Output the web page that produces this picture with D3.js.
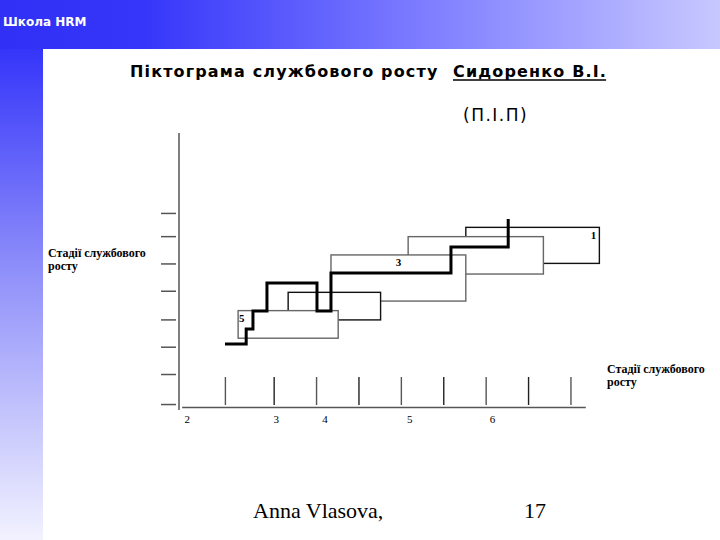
<!DOCTYPE html>
<html><head><meta charset="utf-8">
<script src="https://cdn.jsdelivr.net/npm/d3@7"></script>
<style>html,body{margin:0;padding:0;background:#fff;} svg{display:block;}</style>
</head><body><svg id="c" width="720" height="540"></svg>
<script>
// ---- data ----
const xTicks = [1, 2.15, 3.15, 4.15, 5.15, 6.15, 7.15, 8.15, 9.15];
const xLabels = ["2", "3", "4", "5", "6"];
const xLabelPos = [0.1, 2.2, 3.35, 5.35, 7.3];
const yTicks = [0.2, 1.3, 2.3, 3.3, 4.35, 5.35, 6.35, 7.2];
const stageNames = ["1", "", "3", "", "5"];
const stageStart = [6.67, 5.31, 3.49, 2.48, 1.30];
const stageEnd = [9.82, 8.50, 6.67, 4.66, 3.66];
const stageLow = [5.37, 4.98, 3.99, 3.30, 2.63];
const stageHigh = [6.69, 6.35, 5.68, 4.31, 3.64];
const stageTone = ["black", "grey", "grey", "black", "grey"];
const careerX = [0.99, 1.49, 1.65, 1.98, 3.16, 3.49, 6.32, 7.67];
const careerY = [2.42, 2.97, 3.63, 4.65, 3.63, 5.02, 5.97, 7.0];

const svg = d3.select("#c");
const W = 720, H = 540;

// ---- background ----
const defs = svg.append("defs");
const gh = defs.append("linearGradient").attr("id", "gh").attr("x1", 0).attr("x2", 1).attr("y1", 0).attr("y2", 0);
gh.append("stop").attr("offset", "0").attr("stop-color", "#3030f6");
gh.append("stop").attr("offset", "0.2").attr("stop-color", "#3636fa");
gh.append("stop").attr("offset", "0.55").attr("stop-color", "#7676ff");
gh.append("stop").attr("offset", "1").attr("stop-color", "#c8c8ff");
const gv = defs.append("linearGradient").attr("id", "gv").attr("x1", 0).attr("x2", 0).attr("y1", 0).attr("y2", 1);
gv.append("stop").attr("offset", "0").attr("stop-color", "#3535fa");
gv.append("stop").attr("offset", "0.45").attr("stop-color", "#8f8ffa");
gv.append("stop").attr("offset", "1").attr("stop-color", "#f2f2ff");
svg.append("rect").attr("x", 0).attr("y", 0).attr("width", W).attr("height", 49).attr("fill", "url(#gh)");
svg.append("rect").attr("x", 0).attr("y", 49).attr("width", 43).attr("height", H - 49).attr("fill", "url(#gv)");
svg.append("text").attr("x", 3).attr("y", 26).attr("fill", "#fff")
  .attr("font-family", "DejaVu Sans, Verdana, sans-serif").attr("font-weight", "bold").attr("font-size", 12)
  .text("Школа HRM");

// ---- titles ----
const titleFont = "DejaVu Sans, Verdana, sans-serif";
svg.append("text").attr("x", 130).attr("y", 77)
  .attr("font-family", titleFont).attr("font-weight", "bold").attr("font-size", 16).attr("letter-spacing", 1.15)
  .text("Піктограма службового росту");
const nameT = svg.append("text").attr("x", 453).attr("y", 77)
  .attr("font-family", titleFont).attr("font-weight", "bold").attr("font-size", 16).attr("letter-spacing", 1.15)
  .text("Сидоренко В.І.");
const nb = nameT.node().getBBox();
svg.append("line").attr("x1", nb.x).attr("x2", nb.x + nb.width - 1).attr("y1", 80).attr("y2", 80)
  .attr("stroke", "#000").attr("stroke-width", 1.6);
svg.append("text").attr("x", 463).attr("y", 121)
  .attr("font-family", titleFont).attr("font-size", 17).attr("letter-spacing", 1.5)
  .text("(П.І.П)");

// ---- scales ----
const x = d3.scaleLinear().domain([0, 10]).range([183, 607]);
const y = d3.scaleLinear().domain([0, 10]).range([410, 137]);
const axisColor = "#555";

// y axis
svg.append("line").attr("x1", 179).attr("x2", 179).attr("y1", y(10.15)).attr("y2", y(0))
  .attr("stroke", axisColor).attr("stroke-width", 1.5);
svg.selectAll(".yt").data(yTicks).enter().append("line")
  .attr("x1", 161).attr("x2", 176).attr("y1", d => y(d)).attr("y2", d => y(d))
  .attr("stroke", axisColor).attr("stroke-width", 1.5);

// x axis
svg.append("line").attr("x1", x(-0.02)).attr("x2", x(9.5)).attr("y1", 407.5).attr("y2", 407.5)
  .attr("stroke", axisColor).attr("stroke-width", 1.5);
svg.selectAll(".xt").data(xTicks).enter().append("line")
  .attr("x1", d => x(d)).attr("x2", d => x(d)).attr("y1", 377).attr("y2", 405)
  .attr("stroke", (d, i) => i % 2 ? "#222" : axisColor).attr("stroke-width", 1.4);
svg.selectAll(".xl").data(xLabels).enter().append("text")
  .attr("x", (d, i) => x(xLabelPos[i])).attr("y", 423).attr("text-anchor", "middle")
  .attr("font-family", "Liberation Serif, Times New Roman, serif").attr("font-size", 11)
  .text(d => d);

// stage boxes
const stages = stageNames.map((n, i) => ({ n, x0: stageStart[i], x1: stageEnd[i], y0: stageLow[i], y1: stageHigh[i], tone: stageTone[i] }));
const g = svg.append("g");
stages.forEach((s) => {
  g.append("rect").attr("x", x(s.x0)).attr("y", y(s.y1))
    .attr("width", x(s.x1) - x(s.x0)).attr("height", y(s.y0) - y(s.y1))
    .attr("fill", "#fff").attr("stroke", s.tone === "black" ? "#111" : "#666").attr("stroke-width", 1.4);
});
const lblFont = "Liberation Serif, Times New Roman, serif";
g.append("text").attr("x", x(stageEnd[0]) - 3).attr("y", y(stageHigh[0]) + 12).attr("text-anchor", "end")
  .attr("font-family", lblFont).attr("font-weight", "bold").attr("font-size", 11).text(stageNames[0]);
g.append("text").attr("x", (x(stageStart[2]) + x(stageEnd[2])) / 2).attr("y", y(stageHigh[2]) + 11).attr("text-anchor", "middle")
  .attr("font-family", lblFont).attr("font-weight", "bold").attr("font-size", 11).text(stageNames[2]);
g.append("text").attr("x", x(stageStart[4]) + 1).attr("y", y(stageHigh[4]) + 11)
  .attr("font-family", lblFont).attr("font-weight", "bold").attr("font-size", 11).text(stageNames[4]);

// career path
const line = d3.line().x(d => x(d[0])).y(d => y(d[1])).curve(d3.curveStepAfter);
svg.append("path").datum(careerX.map((v, i) => [v, careerY[i]]))
  .attr("d", line).attr("fill", "none").attr("stroke", "#000").attr("stroke-width", 3)
  .attr("stroke-linejoin", "miter");

// side labels
function twoLine(xp, yp, a, b) {
  const t = svg.append("text").attr("font-family", lblFont).attr("font-weight", "bold").attr("font-size", 12);
  t.append("tspan").attr("x", xp).attr("y", yp).text(a);
  t.append("tspan").attr("x", xp).attr("y", yp + 13).text(b);
}
twoLine(48, 257, "Стадії службового", "росту");
twoLine(607, 373, "Стадії службового", "росту");

// footer
svg.append("text").attr("x", 253).attr("y", 518)
  .attr("font-family", "Liberation Serif, Times New Roman, serif").attr("font-size", 22).text("Anna Vlasova,");
svg.append("text").attr("x", 524).attr("y", 518)
  .attr("font-family", "Liberation Serif, Times New Roman, serif").attr("font-size", 22).text("17");
</script></body></html>
